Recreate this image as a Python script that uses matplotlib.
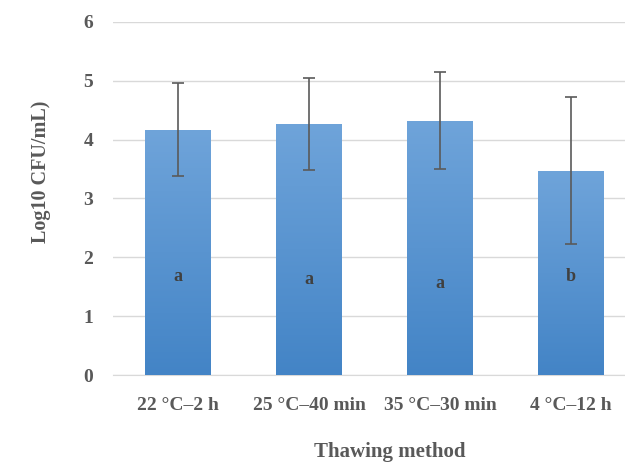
import matplotlib
matplotlib.use("Agg")
import matplotlib.pyplot as plt
import numpy as np
from matplotlib.colors import LinearSegmentedColormap

categories = ["22 °C–2 h", "25 °C–40 min", "35 °C–30 min", "4 °C–12 h"]
values = [4.17, 4.27, 4.32, 3.47]
errors = [0.79, 0.78, 0.82, 1.25]
letters = ["a", "a", "a", "b"]
letter_y = [1.68, 1.62, 1.55, 1.67]
yticks = [0, 1, 2, 3, 4, 5, 6]

plt.rcParams['font.family'] = ['Liberation Serif', 'DejaVu Serif']
gray = "#595959"

fig = plt.figure(figsize=(6.25, 4.63), dpi=100)
ax = fig.add_axes([0.18, 0.19, 0.8384, 0.763])

x = np.arange(len(categories))
bars = ax.bar(x, values, width=0.5, color="#5b9bd5", zorder=2)
cmap = LinearSegmentedColormap.from_list("g", ["#4384c6", "#6fa4da"])
grad = np.linspace(0, 1, 256).reshape(-1, 1)
for b in bars:
    x0, y0 = b.get_x(), b.get_y()
    w, h = b.get_width(), b.get_height()
    im = ax.imshow(grad, cmap=cmap, origin="lower", aspect="auto",
                   extent=[x0, x0 + w, y0, y0 + h], zorder=3)
    im.set_clip_path(b)
    b.set_facecolor("none")

ax.errorbar(x, values, yerr=errors, fmt="none", ecolor="#5a5a5a",
            elinewidth=1.2, capsize=4, capthick=1.2, zorder=4)

for xi, ly, t in zip(x, letter_y, letters):
    ax.text(xi, ly, t, ha="center", va="center", fontsize=13,
            fontweight="bold", color="#404040", zorder=5)

ax.set_xlim(-0.5, len(categories) - 0.5)
ax.set_ylim(0, 6)
ax.set_yticks(yticks)
ax.set_xticks(x)
ax.set_xticklabels(categories)
ax.grid(axis="y", color="#d9d9d9", linewidth=1, zorder=0)
ax.set_axisbelow(True)
for s in ["top", "right", "left"]:
    ax.spines[s].set_visible(False)
ax.spines["bottom"].set_color("#d9d9d9")
ax.tick_params(axis="both", length=0, labelsize=14, colors=gray)
for lab in ax.get_xticklabels() + ax.get_yticklabels():
    lab.set_fontweight("bold")
ax.tick_params(axis="y", pad=14)
ax.tick_params(axis="x", pad=16)

fig.text(0.066, 0.628, "Log10 CFU/mL)", rotation=90, ha="center", va="center",
         fontsize=14.5, fontweight="bold", color=gray)
fig.text(0.624, 0.024, "Thawing method", ha="center", va="center",
         fontsize=15, fontweight="bold", color=gray)

fig.savefig("out.png", dpi=100)
